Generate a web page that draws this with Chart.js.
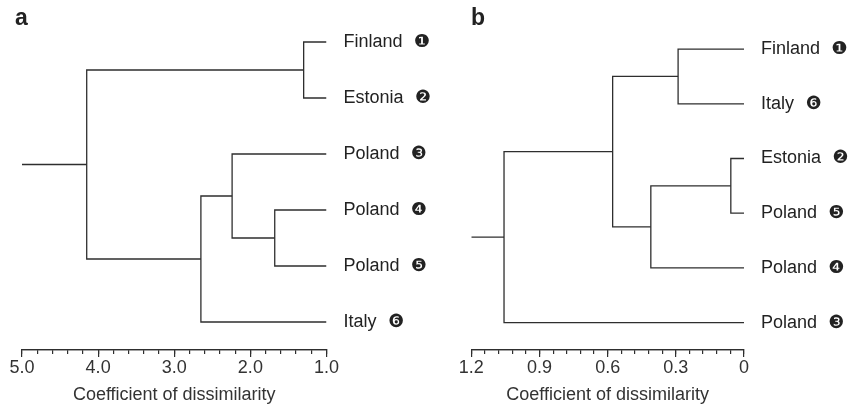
<!DOCTYPE html>
<html>
<head>
<meta charset="utf-8">
<script src="https://cdn.jsdelivr.net/npm/chart.js@4"></script>
<style>
  body { margin: 0; background: #fff; }
  #wrap { position: relative; width: 852px; height: 415px; }
  canvas { position: absolute; top: 0; }
  .tag { position: absolute; font: bold 23px 'Liberation Sans', Arial, sans-serif; line-height: 23px; color: #222; }
</style>
</head>
<body>
<div id="wrap">
  <canvas id="chartA" width="440" height="415" style="left:0"></canvas>
  <canvas id="chartB" width="422" height="415" style="left:430px"></canvas>
  <div class="tag" style="left:15px;top:6px">a</div>
  <div class="tag" style="left:471px;top:6px">b</div>
</div>
<script>
// panel a: leaves top to bottom, merges as [childA, childB, height] (new clusters numbered from 6)
const leavesA = ['Finland', 'Estonia', 'Poland', 'Poland', 'Poland', 'Italy'];
const markersA = ['\u2776', '\u2777', '\u2778', '\u2779', '\u277A', '\u277B'];
const mergesA = [[0, 1, 1.30], [3, 4, 1.68], [2, 7, 2.24], [8, 5, 2.65], [6, 9, 4.15]];
const ticksA = [1.0, 2.0, 3.0, 4.0, 5.0];

// panel b
const leavesB = ['Finland', 'Italy', 'Estonia', 'Poland', 'Poland', 'Poland'];
const markersB = ['\u2776', '\u277B', '\u2777', '\u277A', '\u2779', '\u2778'];
const mergesB = [[0, 1, 0.29], [2, 3, 0.058], [7, 4, 0.41], [6, 8, 0.578], [9, 5, 1.056]];
const ticksB = [0, 0.3, 0.6, 0.9, 1.2];

const axisTitle = 'Coefficient of dissimilarity';
const FONT = "'Liberation Sans', 'DejaVu Sans', sans-serif";
const INK = '#2e2e2e';

function buildSegments(nLeaves, merges, leafHeight, rootTop) {
  const nodes = [];
  for (let i = 0; i < nLeaves; i++) nodes.push({ x: leafHeight, y: i });
  const segs = [];
  merges.forEach(([a, b, h]) => {
    const A = nodes[a], B = nodes[b];
    segs.push([{ x: A.x, y: A.y }, { x: h, y: A.y }, { x: h, y: B.y }, { x: B.x, y: B.y }]);
    nodes.push({ x: h, y: (A.y + B.y) / 2 });
  });
  const root = nodes[nodes.length - 1];
  segs.push([{ x: root.x, y: root.y }, { x: rootTop, y: root.y }]);
  return segs;
}

function noPad(s) {
  s.paddingTop = 0; s.paddingBottom = 0; s.paddingLeft = 0; s.paddingRight = 0;
}

function makeChart(id, leaves, markers, merges, ticks, cfg) {
  const min = ticks[0], max = ticks[ticks.length - 1];
  const segs = buildSegments(leaves.length, merges, min, max);
  const labels = leaves.map((l, i) => l + '  \u200A' + markers[i]);
  return new Chart(document.getElementById(id), {
    type: 'line',
    data: {
      datasets: segs.map(d => ({
        data: d,
        borderColor: INK,
        borderWidth: 1.3,
        pointRadius: 0,
        fill: false,
        tension: 0,
        borderJoinStyle: 'miter',
        xAxisID: 'x'
      }))
    },
    options: {
      responsive: false,
      animation: false,
      events: [],
      layout: { padding: { left: cfg.left, top: cfg.top, right: 0, bottom: 0 } },
      plugins: { legend: { display: false }, tooltip: { enabled: false } },
      scales: {
        x: {
          type: 'linear', position: 'bottom', min: min, max: max, reverse: true, weight: 1,
          border: { display: true, color: INK, width: 1.2 },
          grid: { drawOnChartArea: false, tickLength: 7, color: INK, lineWidth: 1.2 },
          afterBuildTicks: ax => { ax.ticks = ticks.map(v => ({ value: v })); },
          ticks: {
            color: '#333', padding: 0, maxRotation: 0,
            font: { family: FONT, size: 18 },
            callback: v => (v === 0 ? '0' : v.toFixed(1))
          },
          title: {
            display: true, text: axisTitle, color: '#333',
            font: { family: FONT, size: 18 }, padding: { top: 0, bottom: 9 }
          },
          afterFit: s => { s.height = 65; noPad(s); }
        },
        xMinor: {
          type: 'linear', position: 'bottom', min: min, max: max, reverse: true, weight: 0,
          border: { display: true, color: INK, width: 1.2 },
          grid: { drawOnChartArea: false, tickLength: 4, color: INK, lineWidth: 1.2 },
          ticks: { display: false, stepSize: cfg.minor },
          afterFit: s => { s.height = 0; noPad(s); }
        },
        y: {
          type: 'linear', position: 'right', min: -0.5, max: leaves.length - 0.5, reverse: true,
          grid: { display: false, drawTicks: false },
          border: { display: false },
          afterBuildTicks: ax => { ax.ticks = leaves.map((_, i) => ({ value: i })); },
          ticks: {
            color: '#222', padding: 17,
            font: { family: FONT, size: 18 },
            callback: v => labels[v]
          },
          afterFit: s => { s.width = cfg.right; noPad(s); }
        }
      }
    }
  });
}

makeChart('chartA', leavesA, markersA, mergesA, ticksA, { left: 22, top: 14, right: 113.5, minor: 0.2 });
makeChart('chartB', leavesB, markersB, mergesB, ticksB, { left: 41.3, top: 21.7, right: 108, minor: 0.06 });
</script>
</body>
</html>
